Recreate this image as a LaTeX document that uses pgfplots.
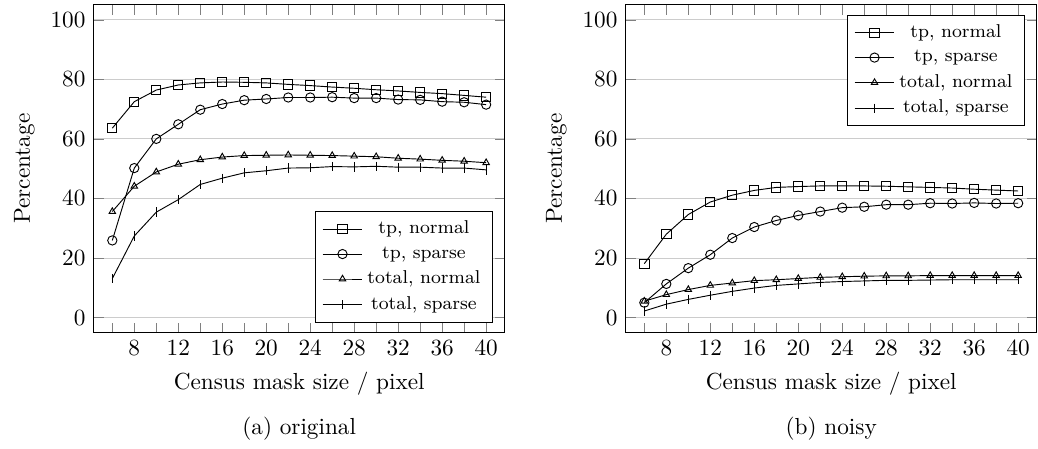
\documentclass[border=0pt]{standalone}
\usepackage{pgfplots}
\pgfplotsset{compat=1.18}
\begin{document}
\begin{tikzpicture}
\pgfplotsset{
  myaxis/.style={
    width=177pt, height=141pt, scale only axis,
    xmin=4.3, xmax=41.7, ymin=-5, ymax=105,
    xtick={8,12,...,40}, minor xtick={6,10,...,38},
    minor tick length=0.15cm,
    ytick={0,20,...,100},
    ymajorgrids, major grid style={gray!40},
    xlabel={Census mask size / pixel}, ylabel={Percentage},
    legend cell align=center,
    legend style={font=\footnotesize},
    every axis plot/.append style={black, line width=0.4pt},
  }
}
\begin{axis}[myaxis, name=a, legend pos=south east]
\addplot[mark=square] coordinates {(6,63.6)(8,72.5)(10,76.4)(12,78.1)(14,78.8)(16,79.1)(18,79.0)(20,78.8)(22,78.3)(24,77.9)(26,77.4)(28,77.0)(30,76.5)(32,76.1)(34,75.6)(36,75.2)(38,74.6)(40,74.0)};
\addlegendentry{tp, normal}
\addplot[mark=o] coordinates {(6,25.9)(8,50.2)(10,60.0)(12,64.9)(14,69.8)(16,71.7)(18,73.0)(20,73.4)(22,73.9)(24,73.9)(26,74.0)(28,73.7)(30,73.7)(32,73.2)(34,73.1)(36,72.5)(38,72.3)(40,71.5)};
\addlegendentry{tp, sparse}
\addplot[mark=triangle, mark size=1.6pt] coordinates {(6,35.6)(8,44.1)(10,48.9)(12,51.5)(14,53.0)(16,53.9)(18,54.4)(20,54.5)(22,54.6)(24,54.5)(26,54.4)(28,54.2)(30,54.0)(32,53.5)(34,53.2)(36,52.8)(38,52.5)(40,52.0)};
\addlegendentry{total, normal}
\addplot[mark=|] coordinates {(6,13.1)(8,27.4)(10,35.4)(12,39.6)(14,44.7)(16,46.8)(18,48.6)(20,49.3)(22,50.2)(24,50.3)(26,50.7)(28,50.6)(30,50.8)(32,50.5)(34,50.5)(36,50.2)(38,50.2)(40,49.6)};
\addlegendentry{total, sparse}
\end{axis}
\begin{axis}[myaxis, name=b, at={(229pt,0)}, legend pos=north east]
\addplot[mark=square] coordinates {(6,18.1)(8,28.0)(10,34.6)(12,38.8)(14,41.1)(16,42.7)(18,43.7)(20,44.0)(22,44.2)(24,44.2)(26,44.2)(28,44.1)(30,43.9)(32,43.7)(34,43.5)(36,43.1)(38,42.8)(40,42.5)};
\addlegendentry{tp, normal}
\addplot[mark=o] coordinates {(6,5.0)(8,11.3)(10,16.6)(12,21.1)(14,26.7)(16,30.4)(18,32.6)(20,34.3)(22,35.6)(24,36.9)(26,37.2)(28,37.9)(30,37.9)(32,38.4)(34,38.3)(36,38.5)(38,38.3)(40,38.4)};
\addlegendentry{tp, sparse}
\addplot[mark=triangle, mark size=1.6pt] coordinates {(6,5.5)(8,7.7)(10,9.4)(12,10.8)(14,11.6)(16,12.4)(18,12.7)(20,13.1)(22,13.5)(24,13.7)(26,13.9)(28,14.0)(30,14.0)(32,14.1)(34,14.1)(36,14.1)(38,14.1)(40,14.1)};
\addlegendentry{total, normal}
\addplot[mark=|] coordinates {(6,2.2)(8,4.5)(10,6.1)(12,7.5)(14,8.8)(16,9.9)(18,10.8)(20,11.3)(22,11.8)(24,12.1)(26,12.3)(28,12.5)(30,12.5)(32,12.6)(34,12.7)(36,12.7)(38,12.7)(40,12.7)};
\addlegendentry{total, sparse}
\end{axis}
\node at ([yshift=-41.6pt]a.south) {(a) original};
\node at ([yshift=-41.6pt]b.south) {(b) noisy};
\pgfresetboundingbox
\path[use as bounding box] ([xshift=-40.3pt, yshift=-50.1pt]a.south west) rectangle ([xshift=0.5pt, yshift=2.1pt]b.north east);
\end{tikzpicture}
\end{document}
